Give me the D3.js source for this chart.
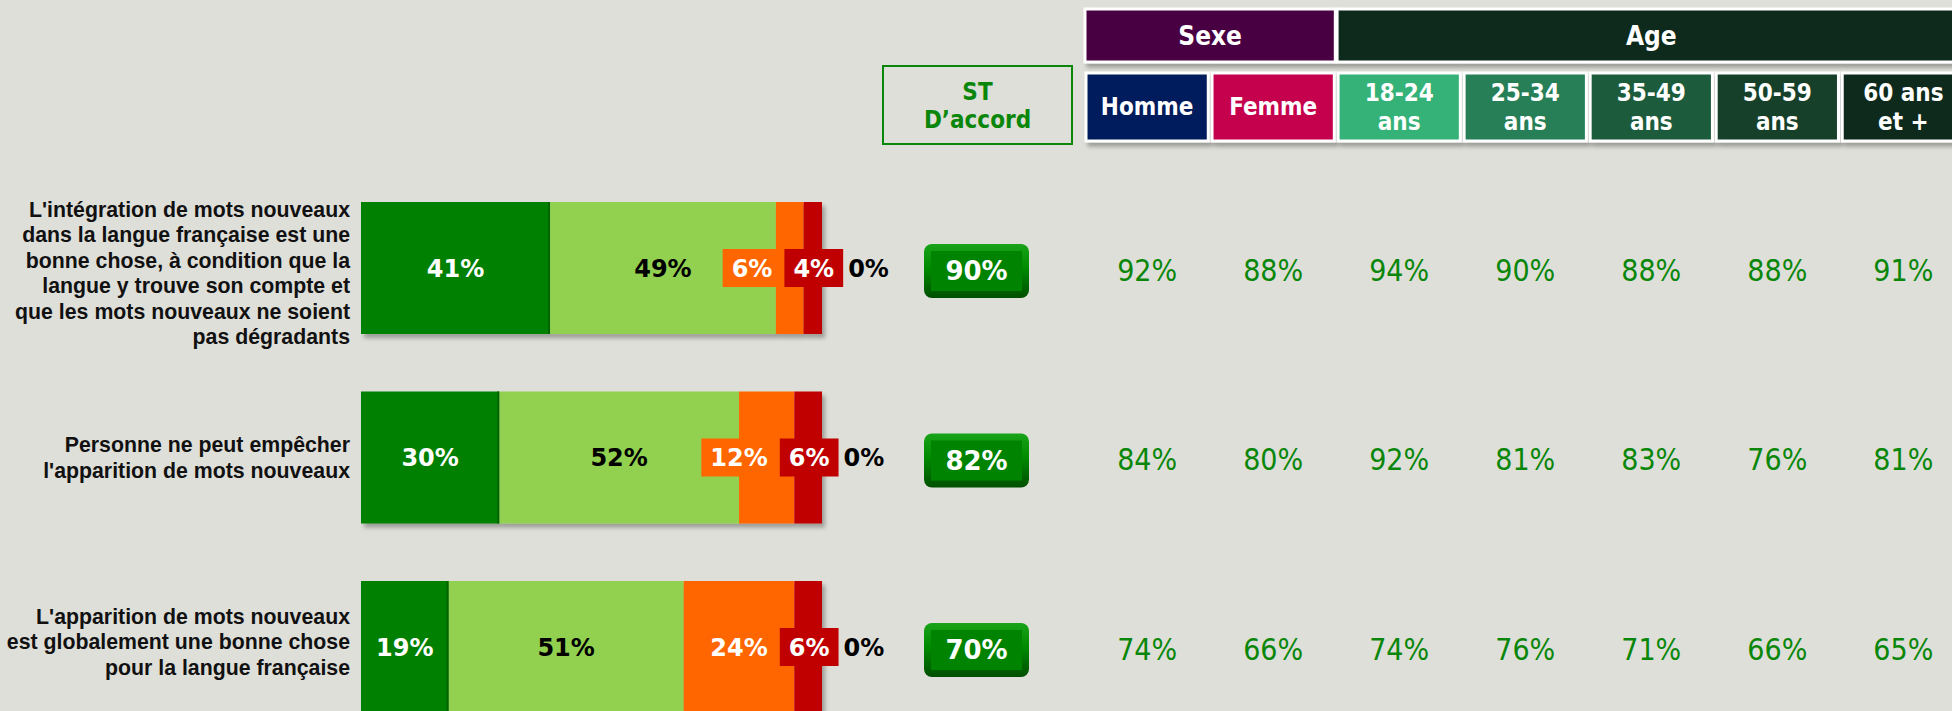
<!DOCTYPE html>
<html>
<head>
<meta charset="utf-8">
<script src="https://cdn.jsdelivr.net/npm/d3@7"></script>
<style>
  html, body { margin: 0; padding: 0; background: #dfdfd9; overflow: hidden; }
  svg { display: block; }
</style>
</head>
<body>
<svg id="chart" width="1952" height="711"></svg>
<script>
// statements (left labels, one entry per line)
var statements = [
  ["L'intégration de mots nouveaux", "dans la langue française est une", "bonne chose, à condition que la",
   "langue y trouve son compte et", "que les mots nouveaux ne soient", "pas dégradants"],
  ["Personne ne peut empêcher", "l'apparition de mots nouveaux"],
  ["L'apparition de mots nouveaux", "est globalement une bonne chose", "pour la langue française"]
];

// answer categories and their values per statement (%)
var answers = ["Tout à fait d'accord", "Plutôt d'accord", "Plutôt pas d'accord", "Pas du tout d'accord", "NSP"];
var answerColors = ["#008000", "#92d050", "#ff6600", "#c00000", "none"];
var toutAFait = [41, 30, 19];
var plutot = [49, 52, 51];
var plutotPas = [6, 12, 24];
var pasDuTout = [4, 6, 6];
var nsp = [0, 0, 0];

// total agree
var stAccord = [90, 82, 70];

// breakdown by group
var groups = ["Sexe", "Age"];
var subgroups = ["Homme", "Femme", "18-24 ans", "25-34 ans", "35-49 ans", "50-59 ans", "60 ans et +"];
var subgroupOf = ["Sexe", "Sexe", "Age", "Age", "Age", "Age", "Age"];
var subgroupColors = ["#001f5c", "#c5004e", "#35b278", "#257f57", "#1c5b3d", "#153f2b", "#0e2a1c"];
var groupColors = ["#4a0042", "#0e2a1c"];
var homme = [92, 84, 74];
var femme = [88, 80, 66];
var age1824 = [94, 92, 74];
var age2534 = [90, 81, 76];
var age3549 = [88, 83, 71];
var age5059 = [88, 76, 66];
var age60 = [91, 81, 65];

var svg = d3.select("#chart");
var numFont = "'DejaVu Sans', Verdana, sans-serif";
var condFont = "'DejaVu Sans Condensed', 'DejaVu Sans', sans-serif";
var labelFont = "'Liberation Sans', Arial, sans-serif";

// shadow filter used by bars and header boxes
var defs = svg.append("defs");
var shadow = defs.append("filter").attr("id", "shadow")
  .attr("x", "-10%").attr("y", "-10%").attr("width", "130%").attr("height", "140%");
shadow.append("feDropShadow").attr("dx", 3).attr("dy", 4).attr("stdDeviation", 2)
  .attr("flood-color", "#000").attr("flood-opacity", 0.3);

var btnGrad = defs.append("linearGradient").attr("id", "btnGrad")
  .attr("x1", 0).attr("y1", 0).attr("x2", 0).attr("y2", 1);
btnGrad.append("stop").attr("offset", "0%").attr("stop-color", "#19a319");
btnGrad.append("stop").attr("offset", "45%").attr("stop-color", "#008a00");
btnGrad.append("stop").attr("offset", "100%").attr("stop-color", "#004f00");

// scales
var x = d3.scaleLinear().domain([0, 100]).range([361, 822]);
var y = d3.scaleBand().domain(d3.range(statements.length)).range([202, 713])
  .paddingInner(0.3034).paddingOuter(0);
var col = d3.scaleBand().domain(subgroups).range([1086, 1964.5]).paddingInner(0.03).paddingOuter(0);

// build the stacked rows
var rows = statements.map(function (s, i) {
  return { label: s, values: [toutAFait[i], plutot[i], plutotPas[i], pasDuTout[i], nsp[i]] };
});
var stack = d3.stack().keys(d3.range(answers.length))
  .value(function (d, key) { return d.values[key]; });
var series = stack(rows);

// left labels
var labelShift = [5, 0, -5];
rows.forEach(function (row, i) {
  var lineH = 25.5;
  var cy = y(i) + y.bandwidth() / 2 + labelShift[i];
  var top = cy - (row.label.length - 1) * lineH / 2;
  var t = svg.append("text")
    .attr("text-anchor", "end")
    .attr("font-family", labelFont)
    .attr("font-weight", "bold")
    .attr("font-size", 21.3)
    .attr("fill", "#111");
  row.label.forEach(function (line, k) {
    t.append("tspan").attr("x", 350).attr("y", top + k * lineH).attr("dy", "0.35em").text(line);
  });
});

// bars
var barG = svg.append("g").attr("filter", "url(#shadow)");
series.forEach(function (s, k) {
  if (answerColors[k] === "none") return;
  barG.selectAll(null).data(s).enter().append("rect")
    .attr("x", function (d) { return x(d[0]); })
    .attr("y", function (d, i) { return y(i); })
    .attr("width", function (d) { return x(d[1]) - x(d[0]); })
    .attr("height", y.bandwidth())
    .attr("fill", answerColors[k]);
});
// darker edge on the first segment
svg.selectAll(null).data(series[0]).enter().append("rect")
  .attr("x", function (d) { return x(d[1]) - 2; })
  .attr("y", function (d, i) { return y(i); })
  .attr("width", 2)
  .attr("height", y.bandwidth())
  .attr("fill", "#006400");

// value labels on bars
rows.forEach(function (row, i) {
  var cy = y(i) + y.bandwidth() / 2;
  var seg = series.map(function (s) { return s[i]; });
  var g = svg.append("g");
  function addText(txt, cx, color, anchor) {
    return g.append("text")
      .attr("x", cx).attr("y", cy).attr("dy", "0.36em")
      .attr("text-anchor", anchor || "middle")
      .attr("font-family", numFont).attr("font-weight", "bold").attr("font-size", 24)
      .attr("fill", color).text(txt);
  }
  // first two segments: plain text centered
  addText(row.values[0] + "%", (x(seg[0][0]) + x(seg[0][1])) / 2, "#fff");
  addText(row.values[1] + "%", (x(seg[1][0]) + x(seg[1][1])) / 2, "#000");

  var pad = 9, boxH = 38;
  // red label box centered on its segment
  var redC = (x(seg[3][0]) + x(seg[3][1])) / 2 + 1;
  var redT = addText(row.values[3] + "%", redC, "#fff");
  var redW = redT.node().getComputedTextLength() + 2 * pad;
  g.insert("rect", function () { return redT.node(); })
    .attr("x", redC - redW / 2).attr("y", cy - boxH / 2)
    .attr("width", redW).attr("height", boxH).attr("fill", answerColors[3]);

  // orange label box, pushed left of the red one if needed
  var orT = addText(row.values[2] + "%", 0, "#fff");
  var orW = orT.node().getComputedTextLength() + 2 * pad;
  var orC = Math.min((x(seg[2][0]) + x(seg[2][1])) / 2, redC - redW / 2 - 3 - orW / 2);
  orT.attr("x", orC);
  g.insert("rect", function () { return orT.node(); })
    .attr("x", orC - orW / 2).attr("y", cy - boxH / 2)
    .attr("width", orW).attr("height", boxH).attr("fill", answerColors[2]);

  // NSP value right of the bar
  addText(row.values[4] + "%", redC + redW / 2 + 5, "#000", "start");
});

// ST D'accord header
svg.append("rect").attr("x", 883).attr("y", 66).attr("width", 189).attr("height", 78)
  .attr("fill", "none").attr("stroke", "#0a870a").attr("stroke-width", 2);
var stT = svg.append("text").attr("text-anchor", "middle")
  .attr("font-family", condFont).attr("font-weight", "bold").attr("font-size", 24).attr("fill", "#0a870a");
stT.append("tspan").attr("x", 977.5).attr("y", 92).attr("dy", "0.35em").text("ST");
stT.append("tspan").attr("x", 977.5).attr("y", 120).attr("dy", "0.35em").text("D’accord");

// ST D'accord buttons
stAccord.forEach(function (v, i) {
  var cy = y(i) + y.bandwidth() / 2 + 3;
  var b = svg.append("g");
  b.append("rect").attr("x", 924).attr("y", cy - 27).attr("width", 105).attr("height", 54)
    .attr("rx", 8).attr("fill", "url(#btnGrad)");
  b.append("rect").attr("x", 931).attr("y", cy - 20).attr("width", 91).attr("height", 40)
    .attr("fill", "#008300");
  b.append("text").attr("x", 976.5).attr("y", cy).attr("dy", "0.36em")
    .attr("text-anchor", "middle").attr("font-family", numFont).attr("font-weight", "bold")
    .attr("font-size", 26).attr("fill", "#fff").text(v + "%");
});

// group headers (Sexe / Age)
var hdr = svg.append("g").attr("filter", "url(#shadow)");
groups.forEach(function (gname, gi) {
  var members = subgroups.filter(function (s, k) { return subgroupOf[k] === gname; });
  var x0 = col(members[0]) - 1;
  var x1 = col(members[members.length - 1]) + col.bandwidth() + 1;
  hdr.append("rect").attr("x", x0).attr("y", 9).attr("width", x1 - x0).attr("height", 53)
    .attr("fill", groupColors[gi]).attr("stroke", "#fff").attr("stroke-width", 3);
  svg.append("text").attr("x", (x0 + x1) / 2).attr("y", 36).attr("dy", "0.36em")
    .attr("text-anchor", "middle").attr("font-family", condFont).attr("font-weight", "bold")
    .attr("font-size", 26).attr("fill", "#fff").text(gname);
});

// subgroup headers
subgroups.forEach(function (s, k) {
  hdr.append("rect").attr("x", col(s)).attr("y", 73).attr("width", col.bandwidth()).attr("height", 68)
    .attr("fill", subgroupColors[k]).attr("stroke", "#fff").attr("stroke-width", 3);
  var words = s.indexOf(" ans") > 0 && s !== "60 ans et +" ? [s.replace(" ans", ""), "ans"]
    : (s === "60 ans et +" ? ["60 ans", "et +"] : [s]);
  var t = svg.append("text").attr("text-anchor", "middle")
    .attr("font-family", condFont).attr("font-weight", "bold").attr("font-size", 24).attr("fill", "#fff");
  var cx = col(s) + col.bandwidth() / 2;
  words.forEach(function (w, j) {
    var yy = words.length === 1 ? 107 : 93 + j * 29;
    t.append("tspan").attr("x", cx).attr("y", yy).attr("dy", "0.35em").text(w);
  });
});

// group values
var groupValues = [homme, femme, age1824, age2534, age3549, age5059, age60];
subgroups.forEach(function (s, k) {
  svg.selectAll(null).data(groupValues[k]).enter().append("text")
    .attr("x", col(s) + col.bandwidth() / 2)
    .attr("y", function (d, i) { return y(i) + y.bandwidth() / 2 + 2; })
    .attr("dy", "0.36em")
    .attr("text-anchor", "middle")
    .attr("font-family", condFont)
    .attr("font-size", 30)
    .attr("fill", "#0a870a")
    .text(function (d) { return d + "%"; });
});
</script>
</body>
</html>
